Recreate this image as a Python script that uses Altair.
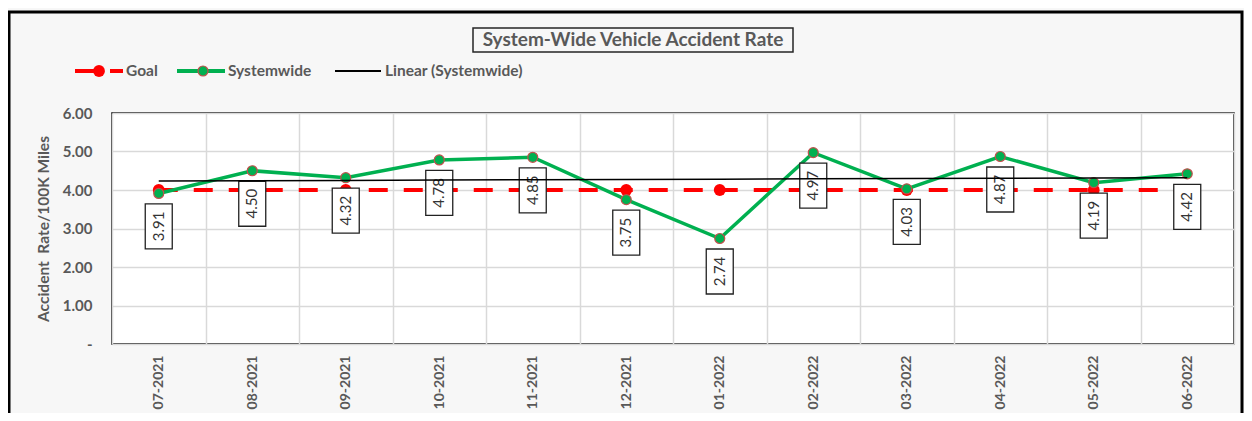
import altair as alt
import pandas as pd
import numpy as np

months = ["07-2021", "08-2021", "09-2021", "10-2021", "11-2021", "12-2021",
          "01-2022", "02-2022", "03-2022", "04-2022", "05-2022", "06-2022"]
systemwide = [3.91, 4.50, 4.32, 4.78, 4.85, 3.75, 2.74, 4.97, 4.03, 4.87, 4.19, 4.42]
goal = [4.00, 4.00, 4.00, 4.00, 4.00, 4.00, 4.00, 4.00, 4.00, 4.00, 4.00, 4.00]
y_ticks = [0, 1, 2, 3, 4, 5, 6]
legend_labels = ["Goal", "Systemwide", "Linear (Systemwide)"]
title_text = "System-Wide Vehicle Accident Rate"
y_title = "Accident\u00a0 Rate/100K Miles"

# Excel-style linear trendline (least squares) of the Systemwide series
idx = np.arange(len(systemwide))
slope, intercept = np.polyfit(idx, systemwide, 1)
trend = [float(intercept + slope * i) for i in idx]

df = pd.DataFrame({
    "Month": months,
    "Systemwide": systemwide,
    "Goal": goal,
    "Trend": trend,
    "Label": [f"{v:.2f}" for v in systemwide],
})

W, H = 1122, 231
FONT = "Lato"
GRAY = "#595959"
RED = "#ff0000"
GREEN = "#00b050"

one = pd.DataFrame({"k": [0]})

x_scale = alt.Scale(domain=months, paddingInner=0, paddingOuter=0)
x_axis = alt.Axis(title=None, labelAngle=270, labelFont=FONT, labelFontSize=14,
                  labelFontWeight="bold", labelColor=GRAY, labelPadding=11,
                  ticks=False, domain=False, grid=True, tickBand="extent",
                  gridColor="#d9d9d9", gridWidth=1.5, labelOverlap=False)
y_scale = alt.Scale(domain=[0, 6], nice=False)
y_axis = alt.Axis(title=y_title, values=y_ticks, labelOverlap=False,
                  labelExpr="datum.value == 0 ? '-\u00a0\u00a0\u00a0' : format(datum.value, '.2f')",
                  labelFont=FONT, labelFontSize=15, labelFontWeight="bold",
                  labelColor=GRAY, labelPadding=20, ticks=False, domain=False,
                  grid=True, gridColor="#d9d9d9", gridWidth=1.5,
                  titleFont=FONT, titleFontSize=15.5, titleFontWeight="bold",
                  titleColor=GRAY, titlePadding=11)


def X():
    return alt.X("Month:N", sort=months, scale=x_scale, axis=x_axis)


def Y(field):
    return alt.Y(field + ":Q", scale=y_scale, axis=y_axis)


base = alt.Chart(df)

goal_line = base.mark_line(color=RED, strokeWidth=4, strokeDash=[19, 16]).encode(
    x=X(), y=Y("Goal"))
goal_pts = base.mark_circle(color=RED, size=140, opacity=1).encode(
    x=X(), y=Y("Goal"))
sys_line = base.mark_line(color=GREEN, strokeWidth=3.5).encode(
    x=X(), y=Y("Systemwide"))
sys_pts = base.mark_point(filled=True, fill=GREEN, stroke="#c0504d", strokeWidth=1.2,
                          size=100, opacity=1).encode(
    x=X(), y=Y("Systemwide"))
boxes = base.mark_rect(width=27, height=45, yOffset=33, fill="white", stroke="#222222",
                       strokeWidth=1.3).encode(
    x=X(), y=Y("Systemwide"))
box_text = base.mark_text(angle=270, yOffset=33, font=FONT, fontSize=15, color="#333333",
                          align="center", baseline="middle").encode(
    x=X(), y=Y("Systemwide"), text="Label:N")
trend_line = base.mark_line(color="black", strokeWidth=1.5).encode(
    x=X(), y=Y("Trend"))

# outer frame and title box
frame = alt.Chart(one).mark_rect(fill=None, stroke="black", strokeWidth=3).encode(
    x=alt.value(-103), x2=alt.value(1130), y=alt.value(-101), y2=alt.value(420))
title_box = alt.Chart(one).mark_rect(fill=None, stroke="#262626", strokeWidth=1.5).encode(
    x=alt.value(361), x2=alt.value(681), y=alt.value(-85), y2=alt.value(-61))
title_mark = alt.Chart(one).mark_text(text=title_text, font=FONT, fontSize=19,
                                      fontWeight="bold", color=GRAY,
                                      align="center", baseline="middle").encode(
    x=alt.value(521), y=alt.value(-73))

# legend
LY = -42
FS = 15.5
leg = [
    alt.Chart(one).mark_rule(color=RED, strokeWidth=4).encode(
        x=alt.value(-37), x2=alt.value(-13), y=alt.value(LY)),
    alt.Chart(one).mark_rule(color=RED, strokeWidth=4).encode(
        x=alt.value(-2), x2=alt.value(11), y=alt.value(LY)),
    alt.Chart(one).mark_circle(color=RED, size=140, opacity=1).encode(
        x=alt.value(-13), y=alt.value(LY)),
    alt.Chart(one).mark_text(text=legend_labels[0], font=FONT, fontSize=FS, fontWeight="bold",
                             color=GRAY, align="left", baseline="middle").encode(
        x=alt.value(14), y=alt.value(LY)),
    alt.Chart(one).mark_rule(color=GREEN, strokeWidth=4).encode(
        x=alt.value(65), x2=alt.value(113), y=alt.value(LY)),
    alt.Chart(one).mark_point(filled=True, fill=GREEN, stroke="#c0504d", strokeWidth=1.2,
                              size=100, opacity=1).encode(
        x=alt.value(91), y=alt.value(LY)),
    alt.Chart(one).mark_text(text=legend_labels[1], font=FONT, fontSize=FS, fontWeight="bold",
                             color=GRAY, align="left", baseline="middle").encode(
        x=alt.value(116), y=alt.value(LY)),
    alt.Chart(one).mark_rule(color="black", strokeWidth=2).encode(
        x=alt.value(223), x2=alt.value(269), y=alt.value(LY)),
    alt.Chart(one).mark_text(text=legend_labels[2], font=FONT, fontSize=FS, fontWeight="bold",
                             color=GRAY, align="left", baseline="middle").encode(
        x=alt.value(273), y=alt.value(LY)),
]

chart = alt.layer(
    goal_line, goal_pts, sys_line, sys_pts, boxes, box_text, trend_line,
    frame, title_box, title_mark, *leg,
).properties(
    width=W, height=H,
    autosize=alt.AutoSizeParams(type="none"),
    padding={"left": 104, "top": 105, "right": 10, "bottom": 69},
    background="#f7f7f7",
).configure_view(
    stroke="black", strokeWidth=1.5, fill="white"
)

chart.save("out.html", embed_options={"renderer": "svg", "actions": False})
